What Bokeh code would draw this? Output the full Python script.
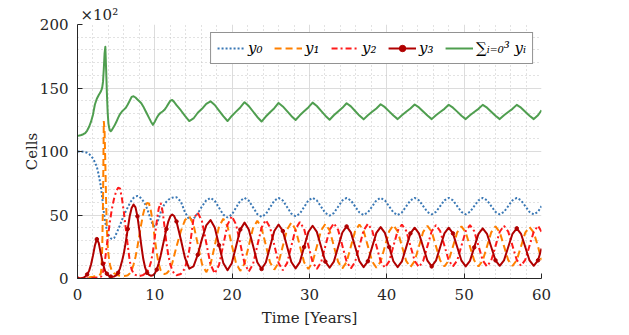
from bokeh.plotting import figure
from bokeh.models import Legend, LegendItem, FixedTicker
from bokeh.embed import file_html
from bokeh.resources import INLINE

# ---------------- data ----------------
t = [0, 0.25, 0.5, 0.75, 1.0, 1.25, 1.5, 1.75, 2.0, 2.25, 2.5, 2.75, 3.0,
     3.1, 3.2, 3.3, 3.4, 3.5, 3.6, 3.7, 3.8, 3.9, 4.0, 4.1, 4.2, 4.3, 4.4, 4.5,
     4.75, 5.0, 5.25, 5.5, 5.75, 6.0, 6.25, 6.5, 6.75, 7.0, 7.25, 7.5, 7.75, 8.0, 8.25, 8.5,
     8.75, 9.0, 9.25, 9.5, 9.75, 10.0, 10.25, 10.5, 10.75, 11.0, 11.25, 11.5, 11.75, 12.0, 12.25, 12.5,
     12.8, 13.35, 13.9, 14.45, 15.0, 15.55, 16.1, 16.65,
     17.2, 17.75, 18.3, 18.85, 19.4, 19.95, 20.5, 21.05,
     21.6, 22.15, 22.7, 23.25, 23.8, 24.35, 24.9, 25.45,
     26.0, 26.55, 27.1, 27.65, 28.2, 28.75, 29.3, 29.85,
     30.4, 30.95, 31.5, 32.05, 32.6, 33.15, 33.7, 34.25,
     34.8, 35.35, 35.9, 36.45, 37.0, 37.55, 38.1, 38.65,
     39.2, 39.75, 40.3, 40.85, 41.4, 41.95, 42.5, 43.05,
     43.6, 44.15, 44.7, 45.25, 45.8, 46.35, 46.9, 47.45,
     48.0, 48.55, 49.1, 49.65, 50.2, 50.75, 51.3, 51.85,
     52.4, 52.95, 53.5, 54.05, 54.6, 55.15, 55.7, 56.25,
     56.8, 57.35, 57.9, 58.45, 59.0, 59.55, 60.0]

y0 = [100, 100, 100, 99.8, 99.5, 99, 98, 96.5, 94.5, 91.5, 88, 81.5, 73,
      68.5, 63.5, 58, 52.5, 48, 44, 41, 38, 36, 34.5, 33.2, 32.3, 31.7, 31.3, 31,
      32, 35, 38.5, 42, 46, 50, 53, 56, 59, 61.5, 63.5, 64.5, 65, 64.5, 63, 61,
      58.5, 55, 50.5, 46, 42, 41, 43, 47, 52, 56, 58.5, 60.5, 62, 63, 63.6, 64,
      64, 60.7, 52.2, 46.3, 47.0, 51.2, 56.8, 61.6,
      63.5, 61.2, 55.75, 50.3, 48, 50.3, 55.75, 61.2,
      63.5, 61.3, 56, 50.7, 48.5, 50.7, 56, 61.3,
      63.5, 61.4, 56.25, 51.1, 49, 51.1, 56.25, 61.4,
      63.5, 61.45, 56.5, 51.55, 49.5, 51.55, 56.5, 61.45,
      63.5, 61.5, 56.75, 52, 50, 52, 56.75, 61.5,
      63.5, 61.5, 56.75, 52, 50, 52, 56.75, 61.5,
      63.5, 61.6, 57, 52.4, 50.5, 52.4, 57, 61.6,
      63.5, 61.6, 57, 52.4, 50.5, 52.4, 57, 61.6,
      63.5, 61.6, 57, 52.4, 50.5, 52.4, 57, 61.6,
      63.5, 61.6, 57, 52.4, 50.5, 52.4, 57]

y1 = [0, 0, 0.1, 0.2, 0.4, 0.6, 0.8, 1.1, 1.4, 1.8, 2.2, 2.7, 3.5,
      8, 25, 60, 124, 116, 90, 60, 38, 26, 19, 14.5, 11, 8.5, 6.8, 5.5,
      4, 3.2, 2.6, 2.2, 2, 2, 2.1, 2.6, 4, 6.5, 11, 17, 25, 34, 43, 51,
      57, 59.5, 59, 53, 43, 31, 20, 11.5, 6.5, 4.2, 3.5, 4, 5.5, 8, 12, 18,
      25, 37, 46, 49, 42.5, 27, 11.45, 5,
      11.15, 26, 40.85, 47, 41, 26.5, 12, 6,
      11.8, 25.75, 39.7, 45.5, 39.85, 26.25, 12.65, 7,
      12.4, 25.5, 38.6, 44, 38.65, 25.75, 12.85, 7.5,
      12.7, 25.25, 37.8, 43, 37.9, 25.5, 13.1, 8,
      13.05, 25.25, 37.45, 42.5, 37.5, 25.5, 13.5, 8.5,
      13.4, 25.25, 37.1, 42, 37.15, 25.5, 13.85, 9,
      13.75, 25.25, 36.75, 41.5, 36.8, 25.5, 14.2, 9.5,
      14.15, 25.25, 36.35, 41, 36.35, 25.25, 14.15, 9.5,
      14.15, 25.25, 36.35, 41, 36.5, 25.5, 14.5, 10,
      14.45, 25.25, 36.05, 40.5, 36.05, 25.25, 14.45]

y2 = [0, 0, 0, 0, 0.1, 0.1, 0.2, 0.3, 0.4, 0.5, 0.7, 0.9, 1.2,
      2, 3.5, 5.5, 8, 12, 16.5, 21.5, 26.5, 31, 36, 40.5, 45, 49, 53, 56.5,
      63.5, 68.5, 71.5, 71, 63, 52, 39, 26, 14, 7, 4, 2.8, 2.2, 2, 2.3, 2.8,
      3.8, 5.5, 8, 13, 21, 33, 45, 55, 59.5, 53, 41, 28, 18, 11, 6.5, 4,
      2.5, 3.5, 8, 22, 47, 52, 45, 28,
      11, 4, 10.6, 26.5, 42.4, 49, 42.6, 27.25,
      11.9, 5.5, 11.4, 25.75, 40.1, 46, 40.2, 26.25,
      12.3, 6.5, 12.1, 25.5, 38.9, 44.5, 39.1, 26,
      12.9, 7.5, 12.8, 25.5, 38.2, 43.5, 38.3, 25.75,
      13.2, 8, 13.1, 25.5, 37.9, 43, 37.95, 25.75,
      13.55, 8.5, 13.5, 25.5, 37.5, 42.5, 37.6, 25.75,
      13.9, 9, 13.7, 25.5, 37.2, 42, 37.25, 25.75,
      14.25, 9.5, 14.25, 25.75, 37.25, 42, 37.25, 25.75,
      14.25, 9.5, 14.2, 25.5, 36.8, 41.5, 36.9, 25.75,
      14.6, 10, 14.6, 25.75, 36.9, 41.5, 36.9]

y3 = [0, 0, 0.2, 0.6, 1.5, 3.2, 6, 11, 18, 26, 31, 28, 20,
      17, 14, 11.5, 9.3, 7.5, 5.5, 4.8, 3.8, 3, 2.4, 2, 1.7, 1.5, 1.4, 1.4,
      1.6, 2.5, 4.5, 8, 13.5, 20, 29, 39, 49, 55.5, 58.3, 56, 49, 38, 26, 15.5,
      8.5, 4.5, 2.8, 2.2, 2.5, 4, 7, 12, 18, 25, 32, 39, 45, 49, 50.4, 49.2,
      44.9, 31.1, 16.2, 7.7, 9.5, 18.7, 31.2, 41.8,
      46, 40.2, 26.25, 12.3, 6.5, 12, 25.25, 38.5,
      44, 38.65, 25.75, 12.85, 7.5, 12.6, 25, 37.4,
      42.5, 37.4, 25.25, 13, 8, 12.9, 24.75, 36.6,
      41.5, 36.7, 25, 13.3, 8.5, 13.3, 24.75, 36.2,
      41, 36.3, 25, 13.7, 9, 13.6, 24.75, 35.9,
      40.5, 35.9, 24.75, 13.6, 9, 13.5, 24.5, 35.5,
      40, 35.5, 24.75, 14, 9.5, 14, 24.75, 35.5,
      40, 35.5, 24.75, 14, 9.5, 13.9, 24.5, 35.1,
      39.5, 35.2, 24.75, 14.3, 10, 14.3, 24.75, 35.2,
      39.5, 35.2, 24.75, 14.3, 10, 14.3, 23.5]

ysum = [112.4, 112.6, 113, 113.6, 114.5, 116.5, 119.5, 123.5, 129, 137, 141.5, 144.5, 147,
        148.5, 150.5, 155, 165, 177, 182.4, 165, 146, 131, 122, 118.5, 116.5, 116, 116.5, 117.5,
        120, 123, 126.5, 129.5, 131.5, 133, 134.5, 137, 140, 143, 143.5, 142.5, 141, 139.5, 138, 135.5,
        132.5, 129.5, 126.5, 123.5, 121, 123.5, 126.5, 129, 130.5, 131.5, 132.8, 135, 137.5, 140, 140.6, 139,
        136.5, 132.5, 128, 124, 126, 130.5, 133.6, 137.5,
        139.5, 136.6, 132.2, 127.8, 124, 128, 131.4, 134.7,
        138.8, 135.8, 131.5, 127.2, 123.6, 127.5, 130.9, 134.1,
        138.2, 135.5, 131.8, 128, 124.8, 128.5, 131.65, 134.7,
        138.5, 135.8, 132, 128.2, 125, 128.5, 131.5, 134.4,
        138, 135.5, 131.9, 128.3, 125.3, 128.5, 131.25, 133.9,
        137.2, 134.9, 131.6, 128.3, 125.5, 128.6, 131.25, 133.8,
        137, 134.7, 131.5, 128.3, 125.5, 128.55, 131.15, 133.6,
        136.8, 134.5, 131.4, 128.2, 125.5, 128.5, 131.1, 133.6,
        136.7, 134.5, 131.3, 128.2, 125.5, 128.5, 131.1, 133.6,
        136.7, 134.5, 131.3, 128.2, 125.5, 128.5, 132.5]

x_ticks = [0, 10, 20, 30, 40, 50, 60]
y_ticks = [0, 50, 100, 150, 200]
x_minor = list(range(0, 61, 2))
y_minor = list(range(0, 201, 10))

labels = ["y\u2080", "y\u2081", "y\u2082", "y\u2083", "\u2211\u1d62\u208c\u2080\u00b3 y\u1d62"]
exponent_text = "\u00d710\u00b2"

for s in (y0, y1, y2, y3, ysum):
    assert len(s) == len(t), (len(s), len(t))

# ---------------- figure ----------------
FONT = "DejaVu Serif"
AX = "#262626"

p = figure(width=621, height=329, x_range=(0, 60), y_range=(0, 200),
           output_backend="svg", toolbar_location=None,
           min_border_left=77, min_border_right=80, min_border_top=24, min_border_bottom=50)
p.outline_line_color = None
p.background_fill_color = "white"

p.title.text = exponent_text
p.title.align = "left"
p.title.offset = 3
p.title.standoff = 2
p.title.text_font = FONT
p.title.text_font_size = "15px"
p.title.text_font_style = "normal"
p.title.text_color = AX

r0 = p.line(t, y0, line_color="#3a78b5", line_width=2, line_dash="2 2")
r1 = p.line(t, y1, line_color="#ff8000", line_width=2, line_dash="7 4")
r2 = p.line(t, y2, line_color="#ff1a1a", line_width=2, line_dash="6 3 2 3")
r3 = p.line(t, y3, line_color="#b00000", line_width=2, line_join="round")
r3m = p.scatter(t[::5], y3[::5], marker="circle", size=3.5,
                fill_color="#b00000", line_color="#b00000")
r4 = p.line(t, ysum, line_color="#4f9e4f", line_width=2, line_join="round")

for ax, ticks, minor in ((p.xaxis[0], x_ticks, x_minor), (p.yaxis[0], y_ticks, y_minor)):
    ax.ticker = FixedTicker(ticks=ticks, minor_ticks=minor)
    ax.axis_line_color = AX
    ax.major_tick_line_color = AX
    ax.major_tick_in = 5
    ax.major_tick_out = 0
    ax.minor_tick_line_color = None
    ax.major_label_text_font = FONT
    ax.major_label_text_font_size = "15px"
    ax.major_label_text_color = AX
    ax.axis_label_text_font = FONT
    ax.axis_label_text_font_size = "15px"
    ax.axis_label_text_font_style = "normal"
    ax.axis_label_text_color = AX

p.xaxis.axis_label = "Time [Years]"
p.yaxis.axis_label = "Cells"
p.xaxis.major_label_standoff = 6
p.xaxis.axis_label_standoff = 6
p.yaxis.major_label_standoff = 5
p.yaxis.axis_label_standoff = -4

for g in (p.xgrid[0], p.ygrid[0]):
    g.grid_line_color = "#dcdcdc"
    g.grid_line_width = 1
    g.minor_grid_line_color = "#c4c4c4"
    g.minor_grid_line_dash = "1 3"
    g.minor_grid_line_width = 1

legend = Legend(items=[LegendItem(label=labels[0], renderers=[r0]),
                       LegendItem(label=labels[1], renderers=[r1]),
                       LegendItem(label=labels[2], renderers=[r2]),
                       LegendItem(label=labels[3], renderers=[r3, r3m]),
                       LegendItem(label=labels[4], renderers=[r4])],
                orientation="horizontal", location="top_right", margin=8,
                padding=6, spacing=6, glyph_width=28, glyph_height=16, label_standoff=3,
                label_text_font=FONT, label_text_font_style="italic",
                label_text_font_size="15px", label_text_color="#000000",
                border_line_color=AX, border_line_width=1,
                background_fill_color="white", background_fill_alpha=1)
p.add_layout(legend)

open("out.html", "w").write(file_html(p, INLINE))
